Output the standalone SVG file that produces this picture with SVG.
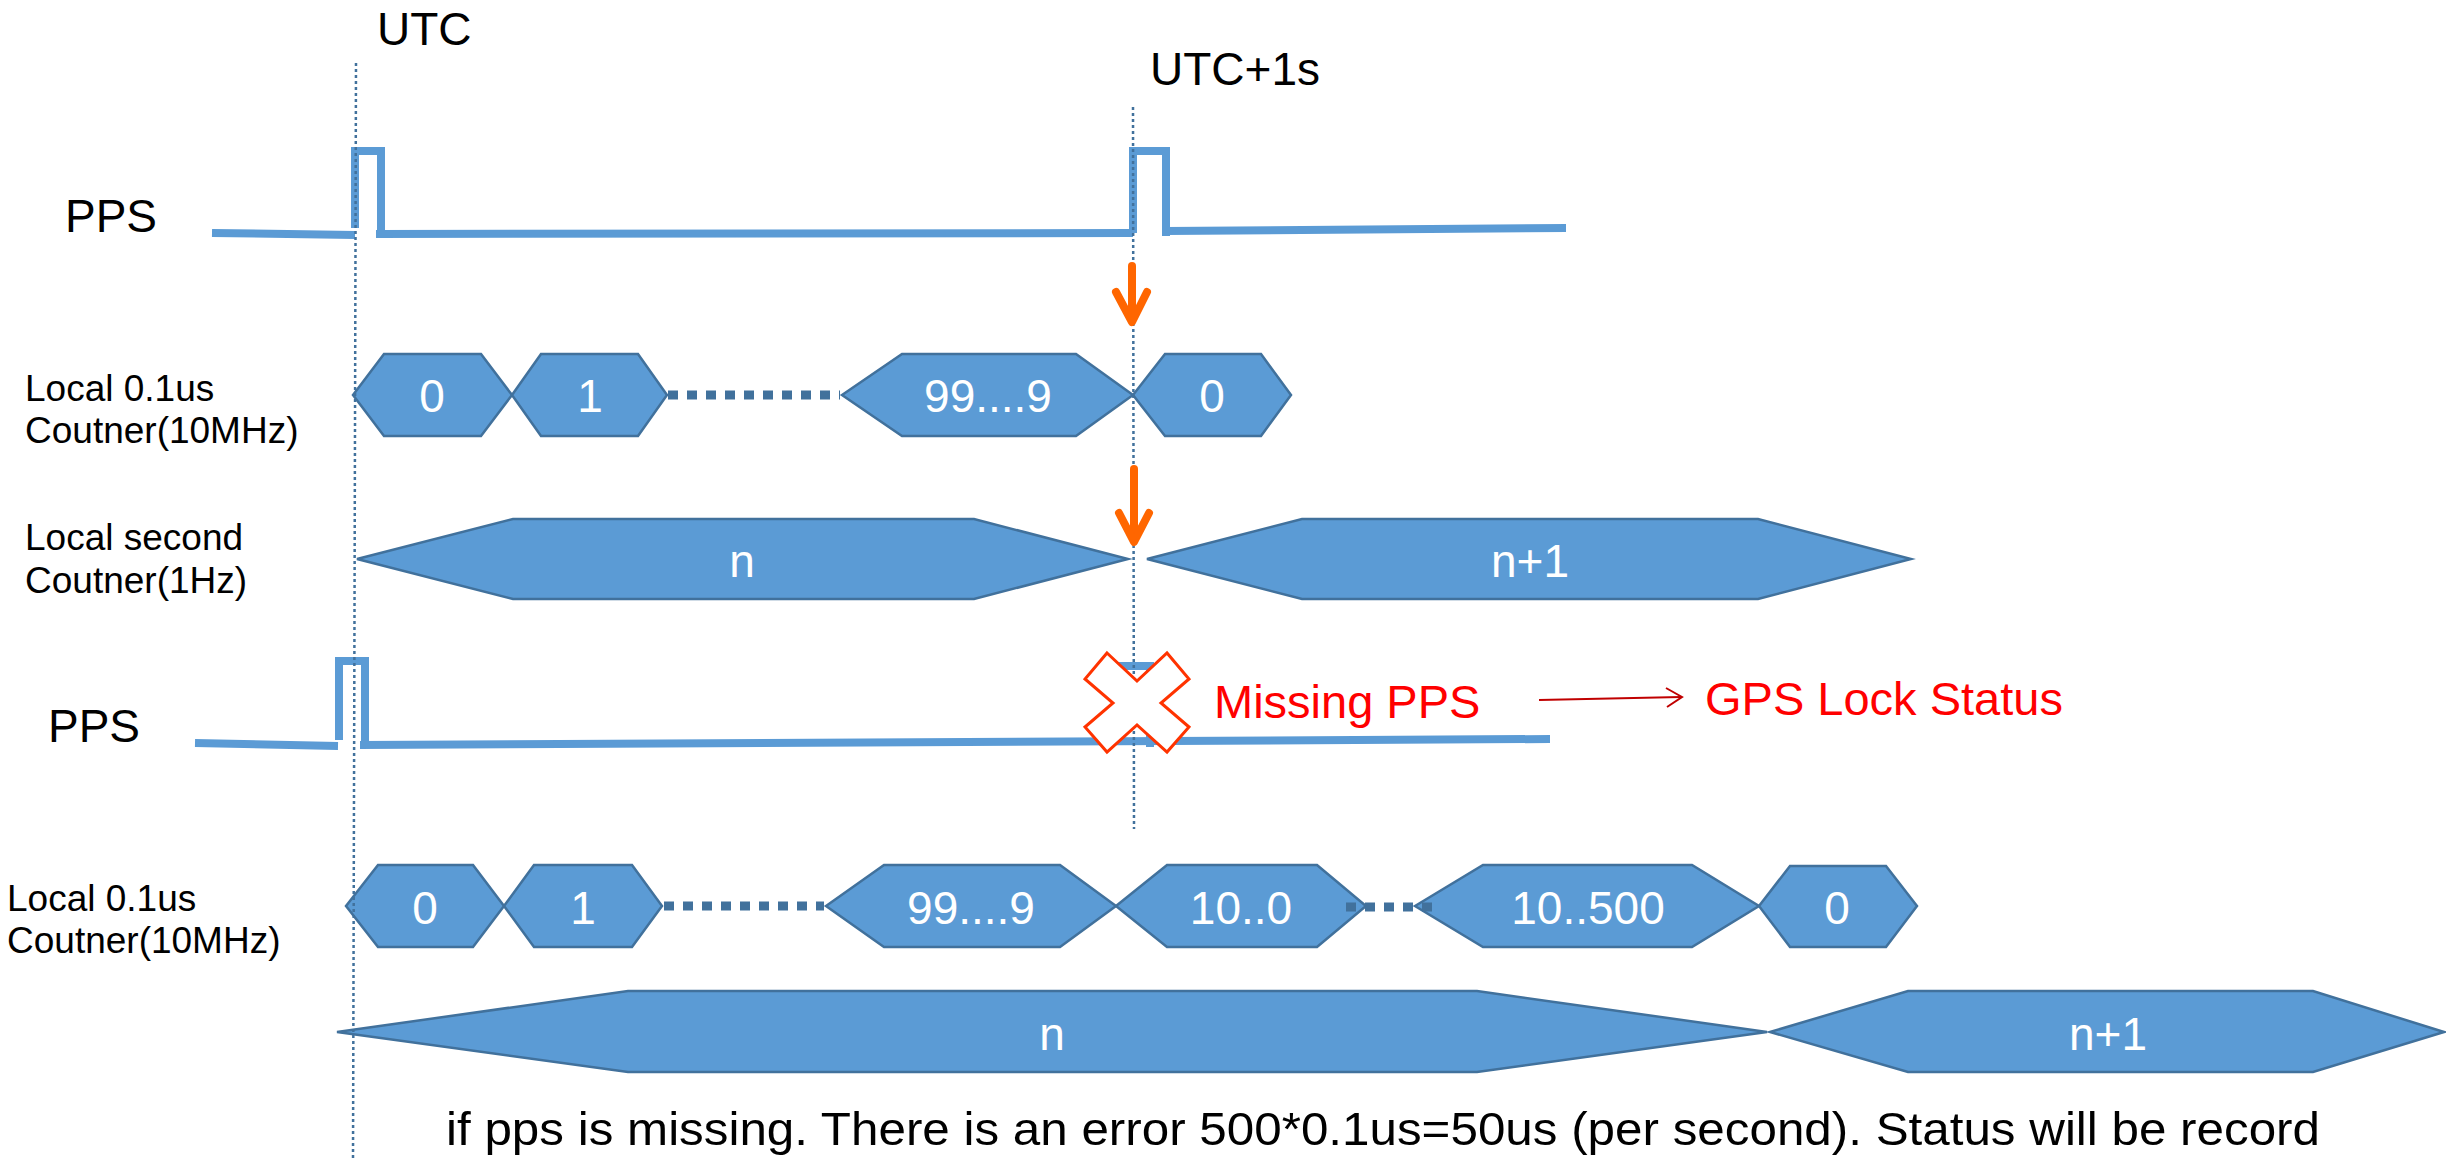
<svg xmlns="http://www.w3.org/2000/svg" width="2446" height="1161" viewBox="0 0 2446 1161">
<style>
text{font-family:"Liberation Sans",Arial,sans-serif}
.lbl{font-size:37px;fill:#000}
.big{font-size:46px;fill:#000}
.hx{fill:#5B9BD5;stroke:#41719C;stroke-width:2.5}
.ht{font-size:46px;fill:#fff;text-anchor:middle}
.sig{fill:none;stroke:#5B9BD5;stroke-width:8}
.guide{stroke:#41719C;stroke-width:2.5;stroke-dasharray:3 3;fill:none}
.dots{stroke:#41719C;stroke-width:9;stroke-dasharray:10 9;fill:none}
.oarr{stroke:#FF6600;stroke-width:8;stroke-linecap:round;stroke-linejoin:round;fill:none}
.red{font-size:47px;fill:#FF0000}
</style>
<rect width="2446" height="1161" fill="#fff"/>

<g id="labels">
<text class="big" x="377" y="45">UTC</text>
<text class="big" x="1150" y="85">UTC+1s</text>
<text class="big" x="65" y="232">PPS</text>
<text class="lbl" x="25" y="401">Local 0.1us</text>
<text class="lbl" x="25" y="443">Coutner(10MHz)</text>
<text class="lbl" x="25" y="550">Local second</text>
<text class="lbl" x="25" y="593">Coutner(1Hz)</text>
<text class="big" x="48" y="742">PPS</text>
<text class="lbl" x="7" y="911">Local 0.1us</text>
<text class="lbl" x="7" y="953">Coutner(10MHz)</text>
<text x="446" y="1145" textLength="1874" lengthAdjust="spacingAndGlyphs" style="font-size:47px;fill:#000">if pps is missing. There is an error 500*0.1us=50us (per second). Status will be record</text>
</g>

<g id="pps1">
<polyline class="sig" points="212,233 355,235"/>
<polyline class="sig" points="355,228 355,151 381,151 381,231"/>
<polyline class="sig" points="376,234 1133,233"/>
<polyline class="sig" points="1133,233 1133,151 1166,151 1166,236"/>
<polyline class="sig" points="1166,231 1566,228"/>
</g>

<g id="row1">
<g id="r1-0"><polygon class="hx" points="353,395 384,354 481,354 512,395 481,436 384,436"/><text class="ht" x="432" y="412">0</text></g>
<g id="r1-1"><polygon class="hx" points="512,395 541,354 638,354 667,395 638,436 541,436"/><text class="ht" x="590" y="412">1</text></g>
<g id="r1-99"><polygon class="hx" points="842,395 902,354 1076,354 1133,395 1076,436 902,436"/><text class="ht" x="988" y="412">99....9</text></g>
<g id="r1-0b"><polygon class="hx" points="1133,395 1165,354 1261,354 1291,395 1261,436 1165,436"/><text class="ht" x="1212" y="412">0</text></g>
</g>

<g id="row2">
<g id="r2-n"><polygon class="hx" points="357,559 513,519 974,519 1128,559 974,599 513,599"/><text class="ht" x="742" y="577">n</text></g>
<g id="r2-n1"><polygon class="hx" points="1147,559 1302,519 1758,519 1911,559 1758,599 1302,599"/><text class="ht" x="1530" y="577">n+1</text></g>
</g>

<g id="pps2">
<polyline class="sig" points="195,743 338,746"/>
<polyline class="sig" points="339,740 339,661 365,661 365,741"/>
<polyline class="sig" points="360,745 1550,739"/>
<polyline class="sig" points="1118,740 1118,666 1150,666 1150,747"/>
</g>

<g id="row4">
<g id="r4-0"><polygon class="hx" points="346,906 378,865 473,865 504,906 473,947 378,947"/><text class="ht" x="425" y="924">0</text></g>
<g id="r4-1"><polygon class="hx" points="504,906 534,865 632,865 662,906 632,947 534,947"/><text class="ht" x="583" y="924">1</text></g>
<g id="r4-99"><polygon class="hx" points="826,906 884,865 1060,865 1116,906 1060,947 884,947"/><text class="ht" x="971" y="924">99....9</text></g>
<g id="r4-100"><polygon class="hx" points="1116,906 1167,865 1317,865 1366,906 1317,947 1167,947"/><text class="ht" x="1241" y="924">10..0</text></g>
<g id="r4-10500"><polygon class="hx" points="1415,906 1483,865 1692,865 1759,906 1692,947 1483,947"/><text class="ht" x="1588" y="924">10..500</text></g>
<g id="r4-0b"><polygon class="hx" points="1759,906 1790,866 1886,866 1917,906 1886,947 1790,947"/><text class="ht" x="1837" y="924">0</text></g>
</g>

<g id="row5">
<g id="r5-n"><polygon class="hx" points="337,1032 628,991 1477,991 1767,1032 1477,1072 628,1072"/><text class="ht" x="1052" y="1050">n</text></g>
<g id="r5-n1"><polygon class="hx" points="1770,1032 1908,991 2313,991 2444,1032 2313,1072 1908,1072"/><text class="ht" x="2108" y="1050">n+1</text></g>
</g>

<g id="connectors">
<line class="guide" x1="356" y1="63" x2="353" y2="1161"/>
<line class="guide" x1="1133" y1="107" x2="1134" y2="829"/>
<line class="dots" x1="668" y1="395" x2="840" y2="395"/>
<line class="dots" x1="664" y1="906" x2="824" y2="906"/>
<line class="dots" x1="1346" y1="907" x2="1434" y2="907"/>
<line class="oarr" x1="1132" y1="266" x2="1132" y2="318"/>
<polyline class="oarr" points="1116,292 1132,322 1147,292"/>
<line class="oarr" x1="1134" y1="469" x2="1134" y2="538"/>
<polyline class="oarr" points="1119,513 1134,542 1149,513"/>
<line x1="1539" y1="700" x2="1681" y2="697" stroke="#C00000" stroke-width="2"/>
<polyline points="1666,688 1682,697 1667,707" fill="none" stroke="#C00000" stroke-width="2"/>
</g>

<g id="missing">
<polygon points="1107,653 1137,681 1167,653 1189,679 1161,703 1189,727 1167,752 1137,725 1107,752 1085,727 1113,703 1085,679" fill="#fff" stroke="#FF3300" stroke-width="3"/>
<text class="red" x="1214" y="718">Missing PPS</text>
<text class="red" x="1705" y="715">GPS Lock Status</text>
</g>
</svg>
